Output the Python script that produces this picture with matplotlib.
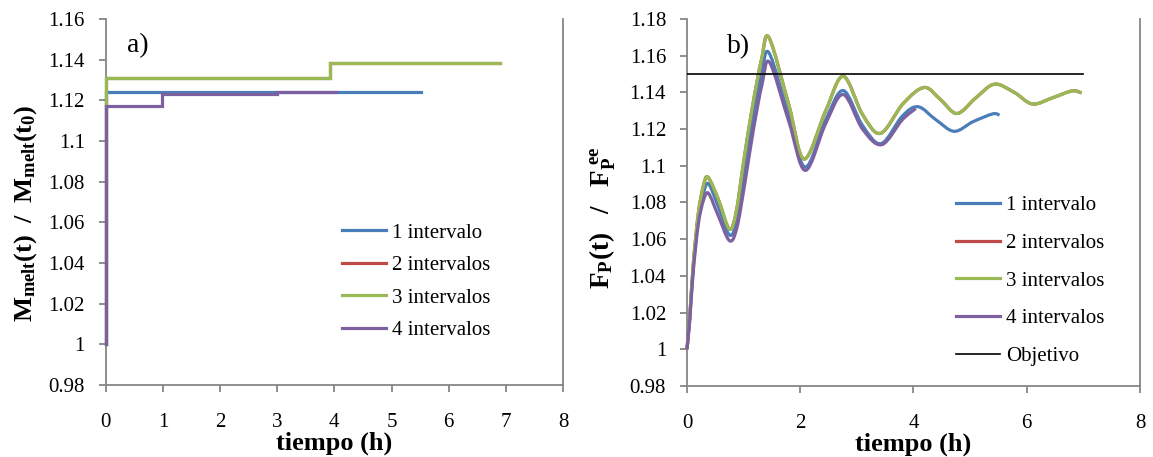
import matplotlib
matplotlib.use("Agg")
import matplotlib.pyplot as plt
from matplotlib.path import Path
from matplotlib.patches import PathPatch
from matplotlib.lines import Line2D

plt.rcParams['font.family'] = ['Liberation Serif', 'DejaVu Serif']
plt.rcParams['mathtext.fontset'] = 'custom'
plt.rcParams['mathtext.rm'] = 'Liberation Serif'
plt.rcParams['mathtext.bf'] = 'Liberation Serif:bold'
plt.rcParams['mathtext.it'] = 'Liberation Serif:italic'

# ---------------- data: panel a) (step levels) ----------------
labels = ['1 intervalo', '2 intervalos', '3 intervalos', '4 intervalos']
a_t1 = [0, 0, 5.52]
a_m1 = [1.0, 1.124, 1.124]
a_t2 = [0, 0, 3.92, 6.89]
a_m2 = [1.0, 1.1308, 1.1382, 1.1382]
a_t3 = [0, 0, 3.92, 6.89]
a_m3 = [1.0, 1.1308, 1.1382, 1.1382]
a_t4 = [0, 0, 0.98, 2.99, 4.02]
a_m4 = [1.0, 1.1174, 1.1230, 1.1242, 1.1242]

# ---------------- data: panel b) ----------------
b_t1 = [0, 0.05, 0.11, 0.2, 0.29, 0.38, 0.55, 0.75, 0.88, 1.0, 1.15, 1.32, 1.45,
        1.80, 2.09, 2.45, 2.76, 3.10, 3.43, 3.80, 4.08, 4.40, 4.72, 5.05, 5.40, 5.52]
b_f1 = [1.0, 1.017, 1.044, 1.071, 1.085, 1.0902, 1.078, 1.0623, 1.070, 1.094, 1.123, 1.150, 1.1615,
        1.127, 1.0993, 1.125, 1.1410, 1.122, 1.1121, 1.127, 1.1322, 1.125, 1.1188, 1.124, 1.1283, 1.1276]
b_t3 = [0, 0.05, 0.11, 0.2, 0.29, 0.37, 0.55, 0.75, 0.87, 1.0, 1.15, 1.32, 1.45,
        1.80, 2.07, 2.45, 2.76, 3.10, 3.42, 3.82, 4.19, 4.48, 4.77, 5.10, 5.43, 5.78,
        6.10, 6.45, 6.80, 6.97]
b_f3 = [1.0, 1.018, 1.046, 1.074, 1.089, 1.0938, 1.082, 1.0655, 1.075, 1.102, 1.131, 1.1585, 1.1698,
        1.133, 1.1037, 1.130, 1.1488, 1.128, 1.1177, 1.134, 1.1427, 1.136, 1.1285, 1.137, 1.1445, 1.140,
        1.1337, 1.137, 1.1408, 1.1397]
b_t2 = list(b_t3)
b_f2 = list(b_f3)
b_t4 = [0, 0.05, 0.11, 0.2, 0.29, 0.38, 0.55, 0.75, 0.88, 1.02, 1.17, 1.33, 1.46,
        1.80, 2.09, 2.45, 2.76, 3.10, 3.44, 3.80, 4.04]
b_f4 = [1.0, 1.016, 1.042, 1.068, 1.081, 1.0850, 1.073, 1.0592, 1.066, 1.090, 1.119, 1.145, 1.1563,
        1.124, 1.0975, 1.123, 1.1388, 1.120, 1.1115, 1.125, 1.1312]
obj_t = [0, 7]
obj_f = [1.15, 1.15]

colors = ['#4A7EBB', '#BE4B48', '#98B954', '#7D60A0']
grey = '#868686'
LW = 2.3
FS = 15


def smooth_path(x, y):
    """Excel-like smoothed line: cubic Bezier segments through the data points."""
    n = len(x)
    verts = [(x[0], y[0])]
    codes = [Path.MOVETO]
    for i in range(n - 1):
        x0, y0 = (x[i - 1], y[i - 1]) if i > 0 else (x[i], y[i])
        x1, y1 = x[i], y[i]
        x2, y2 = x[i + 1], y[i + 1]
        x3, y3 = (x[i + 2], y[i + 2]) if i + 2 < n else (x2, y2)
        c1 = (x1 + (x2 - x0) / 6.0, y1 + (y2 - y0) / 6.0)
        c2 = (x2 - (x3 - x1) / 6.0, y2 - (y3 - y1) / 6.0)
        verts += [c1, c2, (x2, y2)]
        codes += [Path.CURVE4] * 3
    return Path(verts, codes)


def style_axes(ax, ymin, ymax, ystep, xticks):
    ax.set_ylim(ymin, ymax)
    ax.set_xlim(0, 8)
    ax.set_xticks(xticks)
    nt = int(round((ymax - ymin) / ystep)) + 1
    yt = [round(ymin + k * ystep, 2) for k in range(nt)]
    ax.set_yticks(yt)
    ax.set_yticklabels([('%g' % v) for v in yt])
    ax.set_xticklabels([('%g' % v) for v in xticks])
    for s in ['left', 'bottom', 'right']:
        ax.spines[s].set_color(grey)
        ax.spines[s].set_linewidth(1.3)
    ax.spines['top'].set_visible(False)
    ax.tick_params(axis='both', direction='out', length=5, width=1.3, color=grey,
                   labelsize=FS)
    ax.tick_params(axis='y', pad=10)
    ax.tick_params(axis='x', pad=15)
    ax.set_xlabel('tiempo (h)', fontsize=19, fontweight='bold')
    ax.xaxis.label.set_verticalalignment('center')
    ax.xaxis.set_label_coords(0.5, -0.158)


fig = plt.figure(figsize=(11.53, 4.57), dpi=100)
ax1 = fig.add_axes([0.0917, 0.1575, 0.3966, 0.8009])
ax2 = fig.add_axes([0.5958, 0.1554, 0.3929, 0.8030])

# panel a
a_t = [a_t1, a_t2, a_t3, a_t4]
a_m = [a_m1, a_m2, a_m3, a_m4]
for t, m, c, lab in zip(a_t, a_m, colors, labels):
    ax1.step(t, m, where='post', color=c, lw=LW, label=lab, solid_joinstyle='miter',
             clip_on=False, zorder=3)
style_axes(ax1, 0.98, 1.16, 0.02, [0, 1, 2, 3, 4, 5, 6, 7, 8])
ax1.set_ylabel(r'$\mathbf{M_{melt}(t)\ \ /\ \ M_{melt}(t_0)}$', fontsize=19,
               ha='center', va='center')
ax1.yaxis.set_label_coords(-0.176, 0.47)
ax1.text(0.07, 0.926, 'a)', transform=ax1.transAxes, fontsize=20, va='center', ha='center')
ax1.legend(loc='upper left', bbox_to_anchor=(0.494, 0.471), frameon=False, fontsize=FS,
           handlelength=2.1, handletextpad=0.3, labelspacing=0.62, borderpad=0)

# panel b
b_t = [b_t1, b_t2, b_t3, b_t4]
b_f = [b_f1, b_f2, b_f3, b_f4]
handles = []
for t, f, c, lab in zip(b_t, b_f, colors, labels):
    ax2.add_patch(PathPatch(smooth_path(t, f), fill=False, edgecolor=c, lw=LW,
                            capstyle='butt', joinstyle='round', clip_on=False, zorder=3))
    handles.append(Line2D([], [], color=c, lw=LW, label=lab))
ax2.plot(obj_t, obj_f, color='black', lw=1.2, zorder=3)
handles.append(Line2D([], [], color='black', lw=1.2, label='Objetivo'))
style_axes(ax2, 0.98, 1.18, 0.02, [0, 2, 4, 6, 8])
ax2.set_ylabel(r'$\mathbf{F_P(t)\ \ \ /\ \ \ F_P^{\ ee}}$', fontsize=19.5, ha='center', va='center')
ax2.yaxis.set_label_coords(-0.185, 0.458)
ax2.text(0.113, 0.926, 'b)', transform=ax2.transAxes, fontsize=20, va='center', ha='center')
ax2.legend(handles=handles, loc='upper left', bbox_to_anchor=(0.571, 0.547), frameon=False,
           fontsize=FS, handlelength=2.1, handletextpad=0.3, labelspacing=0.87, borderpad=0)

fig.savefig('out.png', dpi=100)
